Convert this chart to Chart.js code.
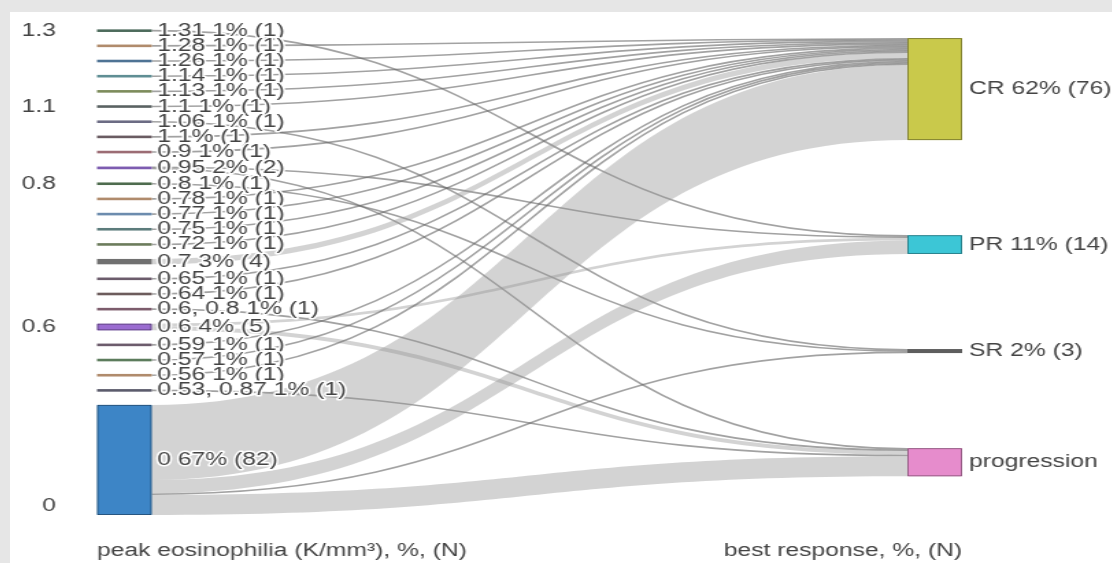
<!DOCTYPE html>
<html>
<head>
<meta charset="utf-8">
<script src="https://cdn.jsdelivr.net/npm/chart.js@4.4.1/dist/chart.umd.min.js"></script>
<style>
  html, body { margin: 0; padding: 0; width: 1112px; height: 563px; overflow: hidden; background: #e6e6e6; }
  #wrap { position: absolute; left: 10px; top: 12px; width: 1102px; height: 551px; background: #fff; overflow: hidden; }
  /* the source picture is stretched sideways, so the canvas is too */
  #sankey { position: absolute; left: 0; top: 0; transform-origin: 0 0; transform: scaleX(1.37); }
</style>
</head>
<body>
<div id="wrap"><canvas id="sankey" width="804" height="551"></canvas></div>
<script>
// left column: peak eosinophilia groups, top to bottom
const leftNames = ['1.31', '1.28', '1.26', '1.14', '1.13', '1.1', '1.06', '1', '0.9', '0.95',
  '0.8', '0.78', '0.77', '0.75', '0.72', '0.7', '0.65', '0.64', '0.6, 0.8', '0.6',
  '0.59', '0.57', '0.56', '0.53, 0.87', '0'];
const leftColors = ['#4d6b5c', '#b08b6c', '#4f7394', '#5f8e94', '#7d8c5c', '#5a6262', '#6c6c84', '#6a5c62', '#9c6c74', '#7d5cb0',
  '#4e6c4e', '#b08b6c', '#6c8cae', '#5c7c7c', '#6c7c5c', '#707070', '#6c5c6c', '#6c5c5c', '#7c5c6c', '#9a6cd0',
  '#6c5c6c', '#5c7c5c', '#b08b6c', '#5c5c6c', '#3d85c6'];

// right column: best response
const rightNames = ['CR', 'PR', 'SR', 'progression'];
const rightShowShare = [true, true, true, false];
const rightColors = ['#c9c94b', '#3cc6d6', '#5e5e5e', '#e68ccc'];

// patients from each left group going to each response
const toCR          = [0, 1, 1, 1, 1, 1, 0, 1, 1, 0, 0, 1, 1, 1, 1, 4, 1, 1, 0, 0, 1, 1, 1, 0, 56];
const toPR          = [1, 0, 0, 0, 0, 0, 0, 0, 0, 1, 0, 0, 0, 0, 0, 0, 0, 0, 0, 2, 0, 0, 0, 0, 10];
const toSR          = [0, 0, 0, 0, 0, 0, 1, 0, 0, 0, 1, 0, 0, 0, 0, 0, 0, 0, 0, 0, 0, 0, 0, 0, 1];
const toProgression = [0, 0, 0, 0, 0, 0, 0, 0, 0, 1, 0, 0, 0, 0, 0, 0, 0, 0, 1, 3, 0, 0, 0, 1, 15];
const patientsTotal = 122;

const yTickNodes = ['1.31', '1.1', '0.8', '0.6', '0'];
const yTickLabels = ['1.3', '1.1', '0.8', '0.6', '0'];
const xTickLabels = ['peak eosinophilia (K/mm³), %, (N)', 'best response, %, (N)'];

// ---- layout in patient units ----
const flows = [toCR, toPR, toSR, toProgression];
const GAP_LEFT = 10.3, GAP_RIGHT = 70.8, RIGHT_TOP = 6;
const pct = v => Math.round(v / patientsTotal * 100);

const leftNodes = leftNames.map((name, i) => ({
  name, color: leftColors[i], value: flows.reduce((s, f) => s + f[i], 0)
}));
let yPos = 0;
leftNodes.forEach(n => { n.y0 = yPos; n.y1 = yPos + n.value; yPos = n.y1 + GAP_LEFT; });
const yMax = yPos - GAP_LEFT;

const rightNodes = rightNames.map((name, j) => ({
  name, color: rightColors[j], value: flows[j].reduce((a, b) => a + b, 0)
}));
yPos = RIGHT_TOP;
rightNodes.forEach(n => { n.y0 = yPos; n.y1 = yPos + n.value; yPos = n.y1 + GAP_RIGHT; });

const links = [];
leftNodes.forEach((n, i) => {
  let sy = n.y0;
  flows.forEach((f, j) => {
    if (f[i] > 0) { links.push({ i, j, value: f[i], s0: sy, s1: sy + f[i] }); sy += f[i]; }
  });
});
rightNodes.forEach((n, j) => {
  let ty = n.y0;
  links.filter(l => l.j === j).sort((a, b) => a.i - b.i).forEach(l => {
    l.t0 = ty; l.t1 = ty + l.value; ty = l.t1;
  });
});

const FONT = '"Liberation Sans", Arial, sans-serif';
Chart.defaults.font.family = FONT;

const sankeyPlugin = {
  id: 'sankey',
  afterDatasetsDraw(chart) {
    const { ctx, scales: { x, y } } = chart;
    const NODE_W = 40;
    const xl0 = x.getPixelForValue(0), xl1 = xl0 + NODE_W;
    const xr1 = x.getPixelForValue(1), xr0 = xr1 - NODE_W;
    const xm = (xl1 + xr0) / 2;
    ctx.save();

    // links
    links.forEach(l => {
      const a0 = y.getPixelForValue(l.s0), a1 = y.getPixelForValue(l.s1);
      const b0 = y.getPixelForValue(l.t0), b1 = y.getPixelForValue(l.t1);
      if (a1 - a0 < 2.5) {
        const a = (a0 + a1) / 2, b = (b0 + b1) / 2;
        ctx.beginPath();
        ctx.moveTo(xl1, a);
        ctx.bezierCurveTo(xm, a, xm, b, xr0, b);
        ctx.lineWidth = 1.6;
        ctx.strokeStyle = 'rgba(105,105,105,0.62)';
        ctx.stroke();
      } else {
        ctx.beginPath();
        ctx.moveTo(xl1, a0);
        ctx.bezierCurveTo(xm, a0, xm, b0, xr0, b0);
        ctx.lineTo(xr0, b1);
        ctx.bezierCurveTo(xm, b1, xm, a1, xl1, a1);
        ctx.closePath();
        ctx.fillStyle = 'rgba(150,150,150,0.42)';
        ctx.fill();
      }
    });

    // nodes
    const drawNode = (n, x0) => {
      let top = y.getPixelForValue(n.y0), bot = y.getPixelForValue(n.y1);
      if (bot - top < 2.6) { const c = (top + bot) / 2; top = c - 1.3; bot = c + 1.3; }
      ctx.fillStyle = n.color;
      ctx.fillRect(x0, top, NODE_W, bot - top);
      if (bot - top > 6) {
        ctx.strokeStyle = 'rgba(0,0,0,0.35)';
        ctx.lineWidth = 1;
        ctx.strokeRect(x0 + 0.5, top + 0.5, NODE_W - 1, bot - top - 1);
      }
      return (top + bot) / 2;
    };

    ctx.font = '18px ' + FONT;
    ctx.textBaseline = 'middle';
    ctx.textAlign = 'left';
    ctx.lineJoin = 'round';
    const label = (text, px, py) => {
      ctx.strokeStyle = '#fff';
      ctx.lineWidth = 3;
      ctx.strokeText(text, px, py);
      ctx.fillStyle = '#444';
      ctx.fillText(text, px, py);
    };

    const leftMid = leftNodes.map(n => drawNode(n, xl0));
    const rightMid = rightNodes.map(n => drawNode(n, xr0));
    leftNodes.forEach((n, i) => label(`${n.name} ${pct(n.value)}% (${n.value})`, xl1 + 4, leftMid[i]));
    rightNodes.forEach((n, j) => {
      const text = rightShowShare[j] ? `${n.name} ${pct(n.value)}% (${n.value})` : n.name;
      label(text, xr1 + 5, rightMid[j]);
    });
    ctx.restore();
  }
};

new Chart(document.getElementById('sankey'), {
  type: 'scatter',
  data: { datasets: [] },
  plugins: [sankeyPlugin],
  options: {
    responsive: false,
    animation: false,
    devicePixelRatio: 1,
    layout: { padding: { top: 18, right: 109, bottom: 0, left: 0 } },
    plugins: { legend: { display: false }, tooltip: { enabled: false } },
    scales: {
      x: {
        type: 'linear',
        min: 0,
        max: 1,
        grid: { display: false },
        border: { display: false },
        afterBuildTicks: s => { s.ticks = [{ value: 0 }, { value: 1 }]; },
        afterFit: s => { s.height = 48; s.paddingLeft = 0; s.paddingRight = 0; },
        ticks: {
          align: 'inner',
          padding: 17,
          color: '#444',
          font: { size: 18 },
          callback: (v, i) => xTickLabels[i]
        }
      },
      y: {
        type: 'linear',
        reverse: true,
        min: 0,
        max: yMax,
        grid: { display: false },
        border: { display: false },
        afterBuildTicks: s => {
          s.ticks = yTickNodes.map(name => {
            const n = leftNodes.find(d => d.name === name);
            return { value: n.value > 20 ? n.y1 - 7 : (n.y0 + n.y1) / 2 };
          });
        },
        afterFit: s => { s.width = 63.5; s.paddingTop = 0; s.paddingBottom = 0; },
        ticks: {
          autoSkip: false,
          padding: 22,
          color: '#444',
          font: { size: 18 },
          callback: (v, i) => yTickLabels[i]
        }
      }
    }
  }
});
</script>
</body>
</html>
